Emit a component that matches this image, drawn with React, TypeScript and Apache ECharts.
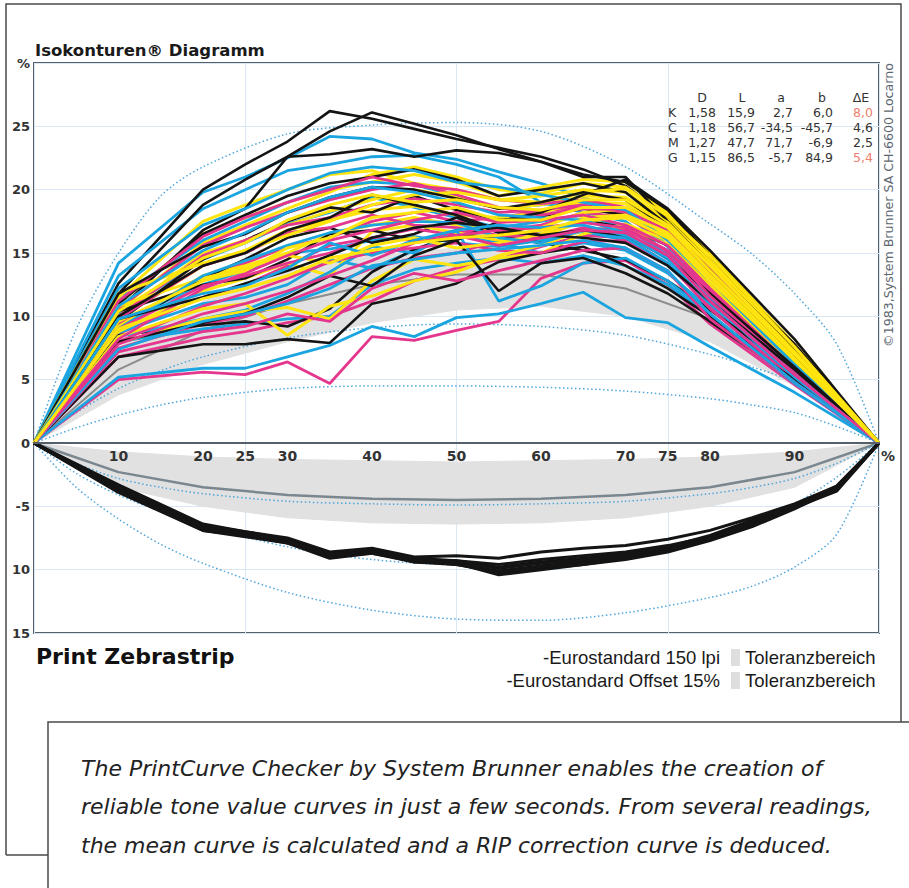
import React, { useEffect, useRef } from "react";
import * as echarts from "echarts";

// ---------- x positions (tone value %) ----------
const X_TONE = [0, 10, 20, 25, 30, 35, 40, 45, 50, 55, 60, 65, 70, 75, 80, 90, 100];
const X_REF = [0, 10, 20, 30, 40, 50, 60, 70, 80, 90, 100];
const X_ISO = [0, 5, 10, 15, 20, 30, 40, 50, 60, 70, 80, 85, 90, 95, 100];
const X_LOW = [0, 10, 20, 25, 30, 35, 40, 45, 50, 55, 60, 65, 70, 75, 80, 85, 90, 95, 100];
const X_TICKS = [10, 20, 25, 30, 40, 50, 60, 70, 75, 80, 90];

// ---------- dot gain curves (upper part) ----------
const K_CURVES = [
  [0, 12.6, 20, 22, 23.8, 26.2, 25.6, 24.8, 24, 23.3, 22.6, 21.6, 20.3, 17.8, 14.4, 7.8, 0],
  [0, 11.8, 18.8, 20.8, 22.6, 24.6, 26.1, 25.2, 24.3, 23.2, 22.2, 21.2, 20.6, 18.4, 14.8, 7.6, 0],
  [0, 10.5, 16.8, 18.5, 22.6, 22.8, 23.2, 22.6, 23.1, 22.9, 22.2, 21, 21, 17.5, 14, 7.3, 0],
  [0, 11, 16.5, 18, 19.5, 20.5, 21, 21.6, 20.8, 19.5, 20, 20.5, 19.8, 17.2, 13.8, 7.2, 0],
  [0, 9.6, 14.5, 16, 17.5, 18.6, 18.2, 19.5, 18.4, 17.6, 17.9, 18.5, 18, 16.2, 13, 6.8, 0],
  [0, 9, 13, 14.5, 16.2, 17, 15.8, 16.5, 17.8, 16.6, 16.5, 17.6, 17, 15.6, 12.6, 6.6, 0],
  [0, 8.5, 9.3, 9.6, 9.2, 10.6, 13.5, 15.3, 16.4, 16.3, 15.8, 15.2, 14.5, 12.8, 10.5, 5.8, 0],
  [0, 6.8, 7.8, 7.8, 8.2, 7.9, 11, 11.7, 12.6, 14.3, 15, 15.5, 14, 12.2, 10, 5.2, 0],
  [0, 10.4, 12.5, 13, 14.5, 16.5, 16.8, 16, 16, 12, 14.2, 14.6, 13.4, 11.8, 9.6, 5, 0],
  [0, 8, 9.5, 10.2, 11.5, 13.2, 12.4, 14.8, 16, 17.5, 18.2, 19.6, 20.8, 18.5, 15.2, 8.2, 0],
  [0, 11.8, 15.5, 16.5, 18.2, 19.4, 20.2, 20, 19.3, 18.5, 19, 19.8, 19.2, 17, 13.6, 7, 0],
  [0, 10, 14, 15, 16.8, 17.8, 19.6, 18.8, 18, 16.8, 16.4, 16.8, 16.4, 14.6, 11.8, 6, 0],
  [0, 9.8, 11.5, 12.6, 13.6, 14.8, 16.2, 17, 17.4, 17, 16.4, 16.2, 15.8, 14, 11.2, 5.8, 0],
];
const C_CURVES = [
  [0, 14.2, 19.8, 21, 22.5, 24.2, 24, 22.9, 22.4, 21.4, 20.5, 19.4, 18, 15.5, 12.2, 6, 0],
  [0, 13.2, 18.5, 20, 21.5, 22, 22.6, 22.7, 22, 21, 19, 18.2, 17.5, 15, 12, 5.8, 0],
  [0, 11.5, 16, 17.5, 19, 20.2, 20.6, 20.4, 19.5, 18.5, 18.8, 19.2, 18.2, 15.6, 12.4, 5.8, 0],
  [0, 10.2, 14.5, 15.8, 17.3, 18.2, 19.4, 18.6, 17.8, 17, 17.5, 18, 17, 14.8, 11.6, 5.5, 0],
  [0, 9.5, 12.5, 13.6, 15, 15.3, 16, 16.3, 15.8, 15.5, 16, 16.7, 16, 14, 11, 5.2, 0],
  [0, 8.7, 11, 11.5, 12.5, 14.5, 13.8, 15.2, 16.4, 15.8, 15, 15.8, 15.2, 13.4, 10.6, 5, 0],
  [0, 8, 9, 9.4, 9.8, 10, 12.5, 13.7, 14.2, 14.6, 14.2, 14.8, 14, 12.5, 10, 4.7, 0],
  [0, 8.4, 9.8, 10.5, 11.8, 13.5, 15.5, 15, 16.8, 11.2, 12.4, 14.2, 14.6, 12.8, 10.2, 4.8, 0],
  [0, 5.2, 5.9, 5.9, 6.8, 7.7, 9.2, 8.4, 9.9, 10.2, 11, 11.9, 9.9, 9.5, 7.6, 4, 0],
  [0, 12.2, 17.2, 18.5, 20, 21.3, 21.8, 21.5, 20.6, 20.2, 19.6, 19, 18.4, 16, 12.8, 6.2, 0],
  [0, 9, 13.2, 14.4, 15.6, 16.6, 17.2, 17.5, 17.4, 16.2, 15.8, 16.8, 16.2, 14.2, 11.2, 5.2, 0],
  [0, 10.8, 15.2, 16.6, 18.2, 19.4, 20.2, 19.8, 19, 18, 17.8, 17.6, 16.6, 14.5, 11.4, 5.5, 0],
  [0, 7.4, 9.6, 10.2, 11, 12.2, 14, 14.5, 15, 15.3, 15.6, 16, 15.4, 13.6, 10.2, 4.8, 0],
  [0, 9.8, 11.8, 12.4, 13.8, 15.8, 14.8, 16, 16.8, 17.2, 17, 17.2, 16.4, 14.6, 11.2, 5.4, 0],
];
const M_CURVES = [
  [0, 5, 5.6, 5.4, 6.4, 4.7, 8.4, 8.1, 8.9, 9.6, 13, 14.2, 14.4, 12.5, 9.4, 4.6, 0],
  [0, 6.8, 8.3, 8.8, 9.5, 10, 11.2, 12.8, 13.8, 14.5, 15.5, 16.4, 16.2, 14.2, 10.8, 5.2, 0],
  [0, 7.5, 9.4, 10, 11.2, 12.5, 13.8, 14.6, 15, 16, 16.8, 17.5, 17, 15, 11.8, 5.6, 0],
  [0, 8.6, 11.5, 12.5, 14, 15.6, 16.2, 16, 16.6, 16.8, 17.2, 18.2, 17.8, 16, 12.5, 6, 0],
  [0, 9.4, 13, 14.2, 15.5, 16.2, 17.5, 18.2, 17.5, 17.8, 18.3, 18.6, 18, 16.3, 12.8, 6.2, 0],
  [0, 10, 14.8, 16, 17.2, 17.8, 18.8, 19.3, 18.8, 18.2, 18.4, 18.8, 18.2, 16.6, 13.3, 6.5, 0],
  [0, 10.6, 15.6, 17, 18.2, 19.2, 20, 20.5, 19.6, 18.6, 18, 18.5, 18.4, 16.8, 13.5, 6.6, 0],
  [0, 11.2, 16.3, 17.8, 19, 20, 21, 20.3, 20, 19.2, 18.9, 19.2, 18.6, 17, 13.8, 6.9, 0],
  [0, 8, 10.8, 11.8, 13, 14.3, 15, 15.4, 15.8, 15.2, 15, 15.9, 16, 14.2, 10.6, 5, 0],
  [0, 9.8, 14, 15, 16.6, 17, 18, 17.2, 17, 16.4, 16.2, 17, 16.8, 15.2, 12, 5.8, 0],
  [0, 7.2, 8.8, 9.2, 10.2, 9.6, 12.2, 13.4, 12.8, 13.6, 14.4, 15.2, 15.4, 13.6, 9.8, 4.8, 0],
  [0, 8.2, 12.2, 13.4, 14.8, 16, 16.8, 17.6, 18.2, 17.4, 17.6, 18, 17.2, 15.6, 12.2, 5.9, 0],
  [0, 9, 12.4, 13.2, 14.2, 15, 16.2, 16.9, 16.4, 16.8, 17, 17.4, 17, 15.2, 11.6, 5.6, 0],
  [0, 7.8, 10.2, 11, 12, 13.2, 14.4, 15.8, 16.4, 15.6, 16.2, 16.8, 16.6, 14.8, 11.2, 5.4, 0],
];
const Y_CURVES = [
  [0, 11, 16.5, 17.8, 19, 20, 20.6, 21.2, 20.6, 19.5, 20.2, 20.8, 20.6, 18.2, 15, 7.8, 0],
  [0, 10.5, 15.8, 17.2, 18.5, 19.8, 21.2, 21.8, 21, 20, 19.7, 20.5, 20.2, 18, 14.6, 7.6, 0],
  [0, 11.5, 17.5, 18.8, 20, 21.2, 21.5, 20.5, 20, 19.2, 19.5, 20, 19.8, 17.6, 14.3, 7.4, 0],
  [0, 10, 15, 16, 17.2, 18.3, 19.2, 20, 19.4, 18.5, 18.8, 19.5, 19.4, 17.4, 14, 7.2, 0],
  [0, 9.8, 14, 15.2, 16.8, 17.6, 18.4, 18.7, 18, 17.8, 18.2, 19, 18.9, 17, 13.7, 7, 0],
  [0, 9.2, 13.2, 14, 15, 16.5, 17.2, 17.8, 17.2, 16.8, 17, 18.2, 18.5, 16.8, 13.4, 6.8, 0],
  [0, 8.8, 12, 13, 14.2, 13.2, 16.7, 17.2, 16.6, 16, 16.3, 17.5, 17.8, 16.4, 13, 6.6, 0],
  [0, 7.9, 9.8, 10.4, 10.7, 9.8, 12.8, 14.5, 14, 14.6, 15, 16.5, 17.3, 16, 12.6, 6.4, 0],
  [0, 8.4, 10.6, 11, 8.5, 10.8, 11.6, 12.8, 13.5, 14.8, 15.6, 16.8, 17, 15.7, 12.3, 6.2, 0],
  [0, 10.8, 13, 13.8, 14.8, 14.2, 15.6, 16.2, 15.4, 15.8, 16.5, 17.8, 18, 16.6, 13.3, 6.8, 0],
  [0, 11.8, 14.2, 15.2, 16.4, 17.5, 18.8, 19.6, 19.8, 19.2, 19, 19.8, 20.1, 17.9, 14.8, 7.6, 0],
  [0, 9.6, 12.8, 13.6, 15.4, 16.2, 17.8, 18.2, 18.6, 17.6, 17.6, 18.6, 18.6, 17, 13.6, 7, 0],
  [0, 10.4, 14.6, 15.8, 17.6, 18.8, 19.6, 19, 19.2, 18.6, 18.4, 19.2, 19.2, 17.2, 14, 7.2, 0],
  [0, 9, 11.4, 12.2, 13.2, 14.6, 15.2, 15.8, 16.2, 16.4, 16.8, 17.6, 17.8, 16.2, 12.8, 6.6, 0],
];

// ---------- black curves (lower part) ----------
const K_LOWER = [
  [0, -3.6, -6.7, -7.2, -7.7, -8.8, -8.5, -9.2, -9.4, -10.3, -9.9, -9.6, -9.2, -8.6, -7.7, -6.6, -5.2, -3.6, 0],
  [0, -3.3, -6.4, -7, -7.5, -8.6, -8.3, -9, -8.9, -9.1, -8.6, -8.3, -8.1, -7.6, -6.9, -5.9, -4.8, -3.4, 0],
  [0, -3.9, -6.9, -7.4, -7.9, -9.1, -8.7, -9.4, -9.6, -10.1, -9.7, -9.4, -9, -8.4, -7.5, -6.3, -5, -3.7, 0],
  [0, -3.5, -6.6, -7.1, -7.6, -8.9, -8.4, -9.2, -9.3, -9.8, -9.4, -9.1, -8.8, -8.2, -7.3, -6.1, -4.9, -3.5, 0],
  [0, -3.7, -6.8, -7.3, -7.8, -9, -8.6, -9.4, -9.5, -10.4, -10, -9.6, -9.1, -8.5, -7.6, -6.4, -5.1, -3.8, 0],
  [0, -3.4, -6.5, -7, -7.6, -8.7, -8.5, -9.1, -9.3, -9.6, -9.2, -8.9, -8.6, -8.1, -7.4, -6.2, -5, -3.4, 0],
  [0, -3.8, -6.9, -7.3, -7.9, -8.9, -8.7, -9.3, -9.6, -10.2, -9.8, -9.3, -8.9, -8.3, -7.4, -6.2, -4.9, -3.6, 0],
  [0, -3.5, -6.7, -7.2, -7.7, -8.8, -8.4, -9.2, -9.4, -9.9, -9.5, -9.2, -8.7, -8.3, -7.5, -6.4, -5.1, -3.7, 0],
];

// ---------- reference curves and tolerance bands ----------
const REF_150 = [0, 5.8, 8.9, 11, 12.5, 13.3, 13.3, 12.2, 9.8, 5.8, 0];
const UP_BAND_LOW = [0, 3.8, 6.2, 8, 9.5, 10.5, 10.8, 10, 8, 4.5, 0];
const UP_BAND_HIGH = [0, 7.5, 11.2, 13.5, 14.8, 15.4, 15.2, 14, 11.5, 7, 0];
const REF_OFFSET = [0, -2.3, -3.5, -4.1, -4.4, -4.5, -4.4, -4.1, -3.5, -2.3, 0];
const LOW_BAND_HIGH = [0, -0.7, -1.1, -1.3, -1.4, -1.5, -1.4, -1.3, -1.1, -0.7, 0];
const LOW_BAND_LOW = [0, -3.5, -5, -5.9, -6.3, -6.4, -6.3, -5.9, -5, -3.5, 0];

// ---------- isocontour (dotted) curves ----------
const ISO_CURVES = [
  [0, 9, 15, 19.5, 21.8, 24.4, 25.1, 25.3, 24.6, 21.8, 17.3, 14.9, 11.8, 7.8, 0],
  [0, 2.4, 4.3, 5.7, 6.8, 8.3, 9.1, 9.4, 9.2, 8.5, 7, 6, 4.8, 2.8, 0],
  [0, 1.2, 2.2, 3, 3.6, 4.3, 4.5, 4.5, 4.4, 4.1, 3.5, 3, 2.4, 1.3, 0],
  [0, -1.6, -2.8, -3.5, -4, -4.6, -4.8, -4.9, -4.8, -4.6, -4, -3.5, -2.8, -1.6, 0],
  [0, -2.4, -4.1, -5.4, -6.5, -8.2, -9.2, -9.6, -9.5, -9, -7.5, -6.3, -4.8, -2.7, 0],
  [0, -3.5, -6, -8, -9.5, -11.8, -13.2, -13.9, -14, -13.4, -12.2, -11.3, -9.8, -7.2, 0],
];

// ---------- table ----------
const TABLE_HEAD = ["D", "L", "a", "b", "ΔE"];
const TABLE_ROWS = [
  ["K", "1,58", "15,9", "2,7", "6,0", "8,0"],
  ["C", "1,18", "56,7", "-34,5", "-45,7", "4,6"],
  ["M", "1,27", "47,7", "71,7", "-6,9", "2,5"],
  ["G", "1,15", "86,5", "-5,7", "84,9", "5,4"],
];
const TABLE_RED = [true, false, false, true];

const CAPTION = [
  "The PrintCurve Checker by System Brunner enables the creation of",
  "reliable tone value curves in just a few seconds. From several readings,",
  "the mean curve is calculated and a RIP correction curve is deduced.",
];

const COL_K = "#141414";
const COL_C = "#1ba5e0";
const COL_M = "#e5368d";
const COL_Y = "#ffe40f";

export default function App() {
  const ref = useRef<HTMLDivElement>(null);

  useEffect(() => {
    if (!ref.current) return;
    const chart = echarts.init(ref.current, null, { renderer: "svg" });

    const pts = (xs: number[], ys: number[]) => xs.map((x, i) => [x, ys[i]]);
    const line = (data: any, color: string, width: number, extra: any = {}) => ({
      type: "line",
      data,
      symbol: "none",
      silent: true,
      animation: false,
      emphasis: { disabled: true },
      lineStyle: { color, width },
      itemStyle: { color },
      ...extra,
    });
    const band = (low: number[], high: number[]) => ({
      type: "custom",
      silent: true,
      animation: false,
      z: 1,
      data: X_REF.map((x, i) => [x, low[i], high[i]]),
      encode: { x: 0, y: [1, 2] },
      renderItem: (params: any, api: any) => {
        if (params.dataIndex !== 0) return null;
        const top = X_REF.map((x, i) => api.coord([x, high[i]]));
        const bot = X_REF.map((x, i) => api.coord([x, low[i]])).reverse();
        return {
          type: "polygon",
          shape: { points: top.concat(bot) },
          style: { fill: "#e1e1e1", stroke: "#e1e1e1", lineWidth: 1 },
        };
      },
    });

    const series: any[] = [];
    series.push(band(UP_BAND_LOW, UP_BAND_HIGH));
    series.push(band(LOW_BAND_LOW, LOW_BAND_HIGH));
    series.push(line(pts(X_REF, REF_150), "#8c8c8c", 2));
    series.push(line(pts(X_REF, REF_OFFSET), "#7a878f", 2.5));
    ISO_CURVES.forEach((c) =>
      series.push(
        line(pts(X_ISO, c), "#4fa6dc", 1.5, {
          smooth: 0.3,
          lineStyle: { color: "#4fa6dc", width: 1.5, type: [1.5, 2.5] },
        })
      )
    );
    const n = Math.max(K_CURVES.length, C_CURVES.length, M_CURVES.length, Y_CURVES.length);
    for (let i = 0; i < n; i++) {
      if (C_CURVES[i]) series.push(line(pts(X_TONE, C_CURVES[i]), COL_C, 2.8));
      if (M_CURVES[i]) series.push(line(pts(X_TONE, M_CURVES[i]), COL_M, 2.8));
      if (Y_CURVES[i]) series.push(line(pts(X_TONE, Y_CURVES[i]), COL_Y, 3));
      if (K_CURVES[i]) series.push(line(pts(X_TONE, K_CURVES[i]), COL_K, 2.6));
    }
    K_LOWER.forEach((c) => series.push(line(pts(X_LOW, c), COL_K, 3)));

    const txt = (text: string, x: number, y: number, o: any = {}) => ({
      type: "text",
      x,
      y,
      z: 100,
      silent: true,
      rotation: o.rotation || 0,
      style: {
        text,
        fill: o.fill || "#222",
        fontSize: o.fontSize || 12,
        fontFamily: o.fontFamily || "DejaVu Sans",
        fontWeight: o.fontWeight || "normal",
        fontStyle: o.fontStyle || "normal",
        align: o.align || "left",
        textAlign: o.align || "left",
        verticalAlign: "middle",
        textVerticalAlign: "middle",
      },
    });

    const graphic: any[] = [
      {
        type: "polyline",
        z: 90,
        silent: true,
        shape: { points: [[6, 855], [6, 4], [901, 4], [901, 722]] },
        style: { stroke: "#4a4a4a", lineWidth: 1.5, fill: "none" },
      },
      {
        type: "line",
        z: 90,
        silent: true,
        shape: { x1: 6, y1: 855, x2: 48, y2: 855 },
        style: { stroke: "#4a4a4a", lineWidth: 1.5 },
      },
      {
        type: "rect",
        z: 91,
        silent: true,
        shape: { x: 48, y: 722, width: 900, height: 220 },
        style: { fill: "#ffffff", stroke: "#4a4a4a", lineWidth: 1.5 },
      },
      txt("Isokonturen® Diagramm", 35, 50, { fontSize: 16.5, fontWeight: "bold", fill: "#1a1a1a" }),
      txt("%", 881, 456, { fontSize: 14, fontWeight: "bold", fill: "#333" }),
      txt("©1983,System Brunner SA CH-6600 Locarno", 888, 205, {
        fontSize: 12.6,
        fill: "#5c6670",
        align: "center",
        rotation: Math.PI / 2,
      }),
      txt("Print Zebrastrip", 36, 656, { fontSize: 22, fontWeight: "bold", fill: "#111" }),
      txt("-Eurostandard 150 lpi", 720, 657, { fontSize: 18.5, fontFamily: "Liberation Sans", align: "right", fill: "#1a1a1a" }),
      txt("-Eurostandard Offset 15%", 720, 680, { fontSize: 18.5, fontFamily: "Liberation Sans", align: "right", fill: "#1a1a1a" }),
      txt("Toleranzbereich", 745, 657, { fontSize: 18.5, fontFamily: "Liberation Sans", fill: "#1a1a1a" }),
      txt("Toleranzbereich", 745, 680, { fontSize: 18.5, fontFamily: "Liberation Sans", fill: "#1a1a1a" }),
      { type: "rect", z: 100, silent: true, shape: { x: 731, y: 649, width: 9, height: 17 }, style: { fill: "#dedede" } },
      { type: "rect", z: 100, silent: true, shape: { x: 731, y: 672, width: 9, height: 17 }, style: { fill: "#dedede" } },
    ];
    CAPTION.forEach((t, i) =>
      graphic.push(txt(t, 81, 768 + i * 38.5, { fontSize: 22, fontFamily: "DejaVu Sans", fontStyle: "italic", fill: "#222" }))
    );
    const headX = [702, 742, 781, 822, 861];
    const colRight = [716, 755, 793, 833, 873];
    TABLE_HEAD.forEach((h, i) => graphic.push(txt(h, headX[i], 97, { fontSize: 12.5, align: "center", fill: "#333" })));
    TABLE_ROWS.forEach((row, r) => {
      const y = 112 + r * 15;
      graphic.push(txt(row[0], 668, y, { fontSize: 12.5, fill: "#333" }));
      for (let c = 1; c < row.length; c++) {
        const red = c === 5 && TABLE_RED[r];
        graphic.push(txt(row[c], colRight[c - 1], y, { fontSize: 12.5, align: "right", fill: red ? "#f0806f" : "#333" }));
      }
    });

    chart.setOption({
      animation: false,
      backgroundColor: "#ffffff",
      textStyle: { fontFamily: "DejaVu Sans" },
      grid: {
        left: 34,
        right: 30,
        top: 63,
        bottom: 255,
        show: true,
        borderColor: "#55606b",
        borderWidth: 2,
        backgroundColor: "#ffffff",
      },
      xAxis: [
        {
          type: "value",
          position: "bottom",
          offset: -190,
          min: 0,
          max: 100,
          interval: 25,
          axisLine: { show: false, onZero: false },
          axisTick: { show: false },
          axisLabel: { show: false },
          splitLine: { show: true, lineStyle: { color: "#d8e7f3", width: 1 } },
        },
        {
          type: "value",
          position: "bottom",
          offset: -190,
          min: 0,
          max: 100,
          interval: 25,
          z: 20,
          axisLine: { show: true, onZero: false, lineStyle: { color: "#55606b", width: 2 } },
          axisTick: { show: false },
          axisLabel: {
            customValues: X_TICKS,
            color: "#333",
            fontWeight: "bold",
            fontSize: 14,
            fontFamily: "DejaVu Sans",
            margin: 6,
          },
          splitLine: { show: false },
        },
      ],
      yAxis: {
        type: "value",
        min: -15,
        max: 30,
        interval: 5,
        axisLine: { show: false },
        axisTick: { show: false },
        axisLabel: {
          color: "#333",
          fontWeight: "bold",
          fontSize: 13,
          fontFamily: "DejaVu Sans",
          margin: 4,
          formatter: (v: number) => (v === 30 ? "%" : v === -5 ? "-5" : String(Math.abs(v))),
        },
        splitLine: { show: true, lineStyle: { color: "#d8e7f3", width: 1 } },
      },
      series,
      graphic,
    });

    return () => chart.dispose();
  }, []);

  return (
    <div
      ref={ref}
      style={{ position: "fixed", left: 0, top: 0, width: 909, height: 888, background: "#fff" }}
    />
  );
}
